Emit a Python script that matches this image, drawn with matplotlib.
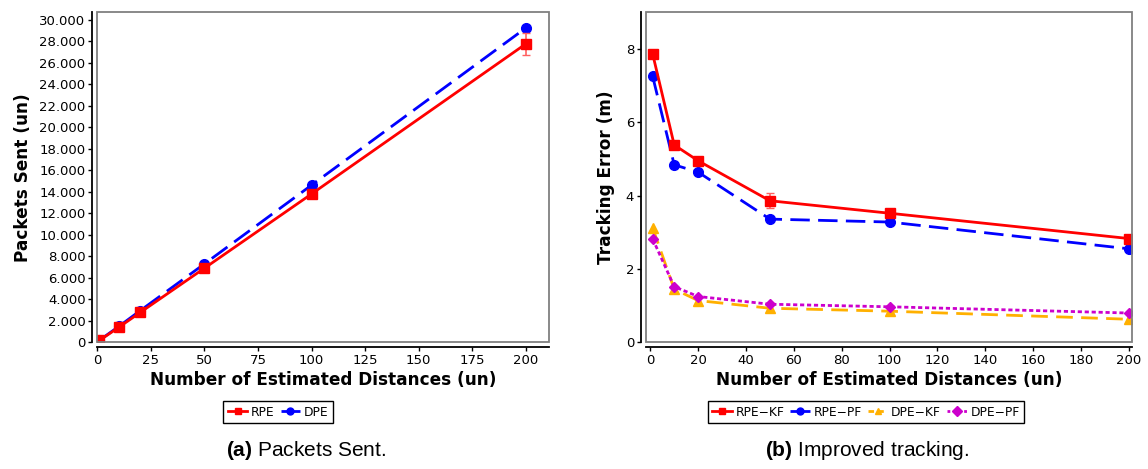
import numpy as np
import matplotlib.pyplot as plt
from matplotlib.patches import Rectangle
from matplotlib.lines import Line2D
from matplotlib.ticker import FuncFormatter

# dados
x = [1, 10, 20, 50, 100, 200]

rpe_pkt = [180, 1400, 2780, 6900, 13800, 27750]
rpe_pkt_err = [0, 80, 120, 200, 400, 1050]
dpe_pkt = [200, 1480, 2950, 7300, 14620, 29230]

rpe_kf = [7.86, 5.38, 4.95, 3.86, 3.52, 2.83]
rpe_kf_err = [0.05, 0.1, 0.05, 0.2, 0.05, 0.05]
rpe_pf = [7.25, 4.84, 4.64, 3.36, 3.28, 2.55]
dpe_kf = [3.12, 1.45, 1.14, 0.93, 0.85, 0.63]
dpe_pf = [2.82, 1.52, 1.25, 1.04, 0.97, 0.80]

RED = '#FF0000'
BLUE = '#0000FF'
ORANGE = '#FFB000'
MAGENTA = '#CC00CC'

plt.rcParams['font.family'] = 'DejaVu Sans'
plt.rcParams['mathtext.fontset'] = 'custom'
plt.rcParams['mathtext.bf'] = 'Liberation Sans:bold'
plt.rcParams['mathtext.rm'] = 'Liberation Sans'

fig = plt.figure(figsize=(11.48, 4.69), dpi=100)
ax1 = fig.add_axes([0.0848, 0.270, 0.3937, 0.704])
ax2 = fig.add_axes([0.5627, 0.270, 0.4236, 0.704])


def estilo(ax):
    # caixa cinza do plot + eixos pretos deslocados (estilo JFreeChart)
    for s in ['top', 'right']:
        ax.spines[s].set_visible(False)
    for s in ['left', 'bottom']:
        ax.spines[s].set_position(('outward', 3.5))
        ax.spines[s].set_linewidth(1.3)
    ax.add_patch(Rectangle((0, 0), 1, 1, transform=ax.transAxes, fill=False,
                           edgecolor='#808080', lw=1.3, clip_on=False, zorder=5))
    ax.tick_params(direction='out', length=3, width=1, labelsize=9.5, pad=2)


def legenda(ax, xc, itens):
    # itens: (rotulo, cor, marcador, tracos)
    h = [Line2D([], [], color=c, marker=m, ms=5, lw=2, dashes=d) for _, c, m, d in itens]
    ax.legend(h, [i[0] for i in itens], loc='upper center', bbox_to_anchor=(xc, -0.16),
              ncol=len(itens), fontsize=8.8, frameon=True, fancybox=False,
              edgecolor='black', handlelength=1.6, handletextpad=0.3,
              columnspacing=0.5, borderpad=0.35, framealpha=1)


# (a) pacotes enviados
ax1.errorbar(x, rpe_pkt, yerr=rpe_pkt_err, color=RED, marker='s', ms=7, lw=2,
             ecolor='#FF6060', elinewidth=1.2, capsize=3, zorder=3)
ax1.plot(x, dpe_pkt, color=BLUE, marker='o', ms=7, lw=2, dashes=(7, 3), zorder=2)
ax1.set_xlim(0, 211)
ax1.set_ylim(0, 30700)
ax1.set_xticks(np.arange(0, 201, 25))
ax1.set_yticks(np.arange(0, 30001, 2000))
ax1.yaxis.set_major_formatter(FuncFormatter(lambda v, p: f'{int(v):,}'.replace(',', '.')))
estilo(ax1)
ax1.set_xlabel('Number of Estimated Distances (un)', fontsize=12.2, fontweight='bold', labelpad=3)
ax1.set_ylabel('Packets Sent (un)', fontsize=12.2, fontweight='bold', labelpad=5)
legenda(ax1, 0.40, [('RPE', RED, 's', (None, None)), ('DPE', BLUE, 'o', (3, 1.5))])

# (b) erro de rastreamento
ax2.errorbar(x, rpe_kf, yerr=rpe_kf_err, color=RED, marker='s', ms=7, lw=2,
             ecolor='#FF6060', elinewidth=1.2, capsize=3, zorder=4)
ax2.plot(x, rpe_pf, color=BLUE, marker='o', ms=7, lw=2, dashes=(7, 3), zorder=3)
ax2.plot(x, dpe_kf, color=ORANGE, marker='^', ms=7, lw=2, dashes=(6, 3), zorder=2)
ax2.plot(x, dpe_pf, color=MAGENTA, marker='D', ms=5, lw=2, dashes=(1.5, 1), zorder=3)
ax2.set_xlim(-1.8, 201.4)
ax2.set_ylim(0, 9)
ax2.set_xticks(np.arange(0, 201, 20))
ax2.set_yticks(np.arange(0, 9, 2))
estilo(ax2)
ax2.set_xlabel('Number of Estimated Distances (un)', fontsize=12.2, fontweight='bold', labelpad=3)
ax2.set_ylabel('Tracking Error (m)', fontsize=12.2, fontweight='bold', labelpad=8)
legenda(ax2, 0.452, [('RPE\u2212KF', RED, 's', (None, None)),
                     ('RPE\u2212PF', BLUE, 'o', (3, 1.5)),
                     ('DPE\u2212KF', ORANGE, '^', (2, 1.5)),
                     ('DPE\u2212PF', MAGENTA, 'D', (1, 1))])

# legendas das subfiguras
fig.text(0.267, 0.04, r'$\bf{(a)}$ Packets Sent.', ha='center', va='center',
         fontsize=15, family='Liberation Sans')
fig.text(0.755, 0.04, r'$\bf{(b)}$ Improved tracking.', ha='center', va='center',
         fontsize=15, family='Liberation Sans')

fig.savefig('out.png', dpi=100)
